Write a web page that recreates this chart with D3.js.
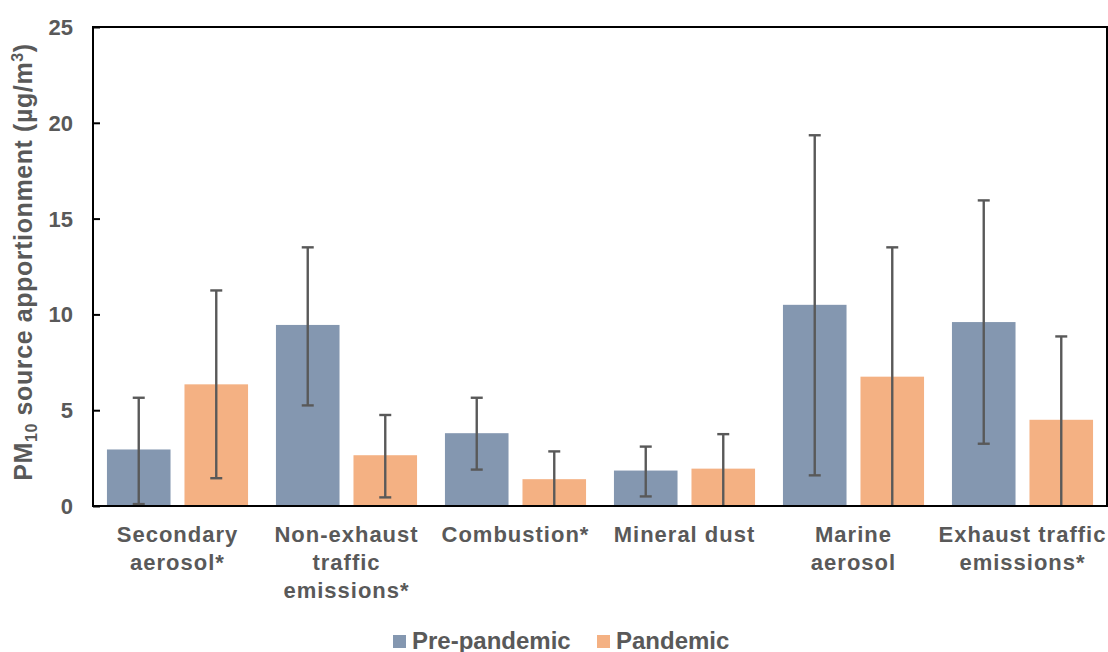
<!DOCTYPE html>
<html lang="en">
<head>
    <meta charset="UTF-8">
    <title>PM10 source apportionment</title>
    <script src="https://d3js.org/d3.v7.min.js"></script>
    <style>
        body { margin: 0; background: #fff; }
        text { font-family: "Liberation Sans", Arial, sans-serif; font-weight: bold; fill: #595959; }
    </style>
</head>
<body>
<svg width="1108" height="652"></svg>

<script>
    // data
    var categories = [
        ["Secondary", "aerosol*"],
        ["Non-exhaust", "traffic", "emissions*"],
        ["Combustion*"],
        ["Mineral dust"],
        ["Marine", "aerosol"],
        ["Exhaust traffic", "emissions*"]
    ];
    var seriesNames = ["Pre-pandemic", "Pandemic"];
    var prePandemic = [2.95, 9.45, 3.8, 1.85, 10.5, 9.6];
    var preLow = [0.1, 5.25, 1.9, 0.5, 1.6, 3.25];
    var preHigh = [5.65, 13.5, 5.65, 3.1, 19.35, 15.95];
    var pandemic = [6.35, 2.65, 1.4, 1.95, 6.75, 4.5];
    var panLow = [1.45, 0.45, 0, 0, 0, 0];
    var panHigh = [11.25, 4.75, 2.85, 3.75, 13.5, 8.85];
    var yTicks = [0, 5, 10, 15, 20, 25];
    var colors = ["#8497B0", "#F4B183"];

    var svg = d3.select("svg"),
        plotLeft = 93, plotRight = 1107, plotTop = 27, plotBottom = 506;

    var x = d3.scaleBand().domain(d3.range(categories.length)).range([plotLeft, plotRight]);
    var x1 = d3.scaleBand().domain([0, 1]).range([0, x.bandwidth()]).paddingInner(0.18).paddingOuter(0.18);
    var y = d3.scaleLinear().domain([0, 25]).range([plotBottom, plotTop]);

    var series = [
        { values: prePandemic, low: preLow, high: preHigh },
        { values: pandemic, low: panLow, high: panHigh }
    ];

    // bars
    series.forEach(function(s, si) {
        svg.append("g").selectAll("rect")
            .data(s.values)
            .enter().append("rect")
            .attr("x", function(d, i) { return x(i) + x1(si); })
            .attr("y", function(d) { return y(d); })
            .attr("width", x1.bandwidth())
            .attr("height", function(d) { return plotBottom - y(d); })
            .attr("fill", colors[si]);
    });

    // error bars
    series.forEach(function(s, si) {
        var g = svg.append("g").attr("stroke", "#595959").attr("stroke-width", 2.4);
        s.values.forEach(function(d, i) {
            var cx = x(i) + x1(si) + x1.bandwidth() / 2;
            g.append("line").attr("x1", cx).attr("x2", cx).attr("y1", y(s.low[i])).attr("y2", y(s.high[i]));
            g.append("line").attr("x1", cx - 6).attr("x2", cx + 6).attr("y1", y(s.high[i])).attr("y2", y(s.high[i]));
            if (s.low[i] > 0) {
                g.append("line").attr("x1", cx - 6).attr("x2", cx + 6).attr("y1", y(s.low[i])).attr("y2", y(s.low[i]));
            }
        });
    });

    // frame
    svg.append("rect")
        .attr("x", plotLeft).attr("y", plotTop)
        .attr("width", plotRight - plotLeft).attr("height", plotBottom - plotTop)
        .attr("fill", "none").attr("stroke", "#000").attr("stroke-width", 2);

    // y axis
    var yAxis = svg.append("g")
        .attr("transform", "translate(" + plotLeft + ",0)")
        .call(d3.axisRight(y).tickValues(yTicks).tickSize(7).tickFormat(""));
    yAxis.select(".domain").remove();
    yAxis.selectAll("line").attr("stroke", "#000").attr("stroke-width", 2);

    svg.append("g").selectAll("text")
        .data(yTicks)
        .enter().append("text")
        .attr("x", 73)
        .attr("y", function(d) { return y(d); })
        .attr("dy", "0.36em")
        .attr("text-anchor", "end")
        .attr("font-size", "22px")
        .text(function(d) { return d; });

    // y axis title
    var title = svg.append("text")
        .attr("transform", "translate(32,262) rotate(-90)")
        .attr("text-anchor", "middle")
        .attr("font-size", "25px")
        .attr("letter-spacing", "0.6px");
    title.append("tspan").text("PM");
    title.append("tspan").attr("font-size", "16px").attr("dy", "5").text("10");
    title.append("tspan").attr("dy", "-5").text(" source apportionment (µg/m");
    title.append("tspan").attr("font-size", "16px").attr("dy", "-9").text("3");
    title.append("tspan").attr("dy", "9").text(")");

    // category labels
    categories.forEach(function(lines, i) {
        var cx = x(i) + x.bandwidth() / 2;
        var t = svg.append("text")
            .attr("x", cx)
            .attr("y", 542)
            .attr("text-anchor", "middle")
            .attr("font-size", "22px")
            .attr("letter-spacing", "1px");
        lines.forEach(function(l, li) {
            t.append("tspan")
                .attr("x", cx)
                .attr("dy", li === 0 ? 0 : 28)
                .text(l);
        });
    });

    // legend
    var legendX = [393, 597];
    seriesNames.forEach(function(name, i) {
        svg.append("rect")
            .attr("x", legendX[i]).attr("y", 635)
            .attr("width", 13).attr("height", 13)
            .attr("fill", colors[i]);
        svg.append("text")
            .attr("x", legendX[i] + 19).attr("y", 649)
            .attr("font-size", "24px")
            .text(name);
    });
</script>
</body>
</html>
